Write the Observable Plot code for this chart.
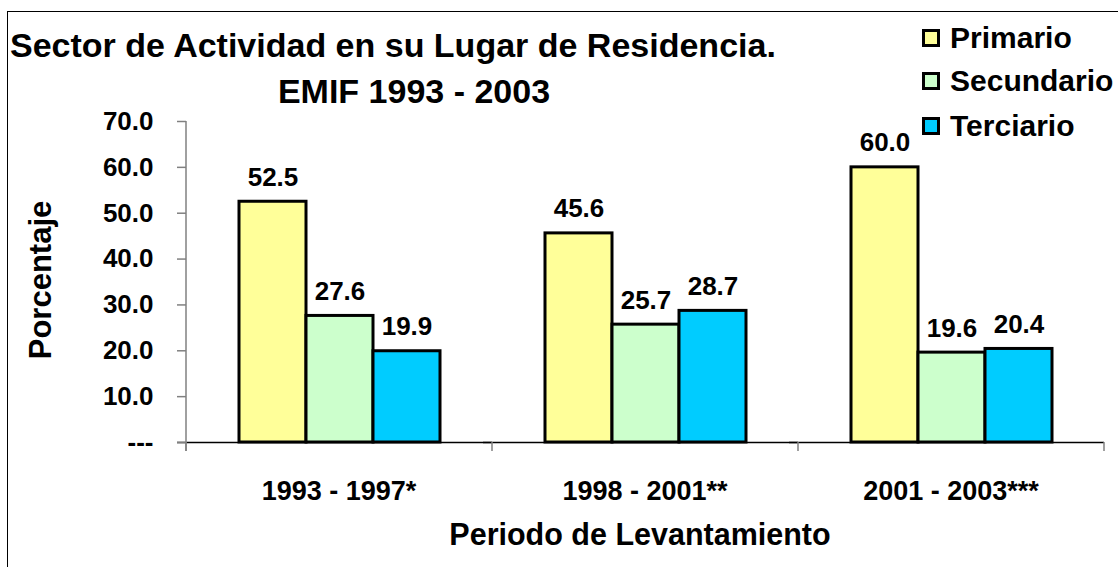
<!DOCTYPE html>
<html>
<head>
<meta charset="utf-8">
<script src="https://cdn.jsdelivr.net/npm/d3@7"></script>
<script src="https://cdn.jsdelivr.net/npm/@observablehq/plot@0.6"></script>
<style>
  html, body { margin: 0; padding: 0; background: #fff; }
  #wrap { position: relative; width: 1118px; height: 567px; overflow: hidden; background: #fff;
          font-family: "Liberation Sans", Arial, sans-serif; font-weight: bold; color: #000; }
  #frame { position: absolute; left: 7px; top: 11px; width: 1200px; height: 700px; border-left: 1.5px solid #000; border-top: 1.5px solid #000; }
  #chart { position: absolute; left: 0; top: 0; }
  .t { position: absolute; white-space: nowrap; line-height: 1; }
  .leg { position: absolute; left: 922px; display: flex; align-items: center; }
  .sw { width: 18px; height: 18px; box-sizing: border-box; border: 3px solid #000; margin-right: 10px; }
  .lt { font-size: 30px; line-height: 1; }
</style>
</head>
<body>
<div id="wrap">
  <div id="frame"></div>
  <div id="chart"></div>
  <div class="t" style="left:10px; top:28px; font-size:34px;">Sector de Actividad en su Lugar de Residencia.</div>
  <div class="t" style="left:414px; top:74px; font-size:34px; transform:translateX(-50%);">EMIF 1993 - 2003</div>
  <div id="legend"></div>
  <div class="t" style="left:40px; top:280px; font-size:31px; transform:translate(-50%,-50%) rotate(-90deg);">Porcentaje</div>
  <div class="t" style="left:640px; top:519px; font-size:30.5px; transform:translateX(-50%);">Periodo de Levantamiento</div>
</div>
<script>
const periods = ["1993 - 1997*", "1998 - 2001**", "2001 - 2003***"];
const sectors = ["Primario", "Secundario", "Terciario"];
const primario = [52.5, 45.6, 60.0];
const secundario = [27.6, 25.7, 19.6];
const terciario = [19.9, 28.7, 20.4];
const sectorColors = ["#FFFF99", "#CCFFCC", "#00CCFF"];
const yTicks = [0, 10, 20, 30, 40, 50, 60, 70];

const series = [primario, secundario, terciario];
const data = periods.flatMap((p, i) => sectors.map((s, j) => ({period: p, sector: s, value: series[j][i]})));

const plot = Plot.plot({
  width: 1118,
  height: 567,
  marginTop: 121,
  marginBottom: 125,
  marginLeft: 185,
  marginRight: 14,
  style: {fontFamily: "'Liberation Sans', Arial, sans-serif", fontWeight: "bold", background: "transparent", overflow: "visible"},
  fx: {domain: periods, padding: 0, axis: null, label: null},
  x: {domain: sectors, paddingInner: 0, paddingOuter: 0.76, axis: null, label: null},
  y: {domain: [0, 70], axis: null, label: null},
  color: {domain: sectors, range: sectorColors},
  marks: [
    Plot.barY(data, {fx: "period", x: "sector", y: "value", fill: "sector", stroke: "#000", strokeWidth: 3, inset: 0}),
    Plot.ruleY([0], {stroke: "#000", strokeWidth: 1.5, insetLeft: -9}),
    Plot.text(data, {fx: "period", x: "sector", y: "value", text: d => d.value.toFixed(1),
      dy: -16, lineAnchor: "bottom", fontSize: 26, fontWeight: "bold", fill: "#000"}),
    Plot.axisY({ticks: yTicks, tickFormat: d => d === 0 ? "---" : d.toFixed(1), tickSize: 9, tickPadding: 24,
      fontSize: 26, fontWeight: "bold", stroke: "#808080", strokeWidth: 1.5, fill: "#000", label: null, facetAnchor: "left"})
  ]
});
document.getElementById("chart").appendChild(plot);

// y-axis line and category boundary ticks, positioned through Plot's own scales
const fx = plot.scale("fx");
const ys = plot.scale("y");
const svg = d3.select(plot);
const y0 = ys.apply(0), yTop = ys.apply(70);
const left = fx.apply(periods[0]);
svg.append("line").attr("x1", left).attr("x2", left).attr("y1", yTop).attr("y2", y0 + 9)
  .attr("stroke", "#808080").attr("stroke-width", 1.5);
const bounds = periods.map(p => fx.apply(p)).concat([fx.apply(periods[periods.length - 1]) + fx.bandwidth]);
bounds.forEach(b => svg.append("line").attr("x1", b).attr("x2", b).attr("y1", y0).attr("y2", y0 + 9)
  .attr("stroke", "#808080").attr("stroke-width", 1.5));
// category labels
periods.forEach(p => svg.append("text").attr("x", fx.apply(p) + fx.bandwidth / 2).attr("y", y0 + 58)
  .attr("text-anchor", "middle").attr("font-size", 27).attr("font-weight", "bold").attr("fill", "#000").text(p));

// legend
const leg = document.getElementById("legend");
const legTops = [23, 66, 111];
sectors.forEach((s, i) => {
  const row = document.createElement("div");
  row.className = "leg";
  row.style.top = legTops[i] + "px";
  row.innerHTML = `<div class="sw" style="background:${sectorColors[i]}"></div><div class="lt">${s}</div>`;
  leg.appendChild(row);
});
</script>
</body>
</html>
